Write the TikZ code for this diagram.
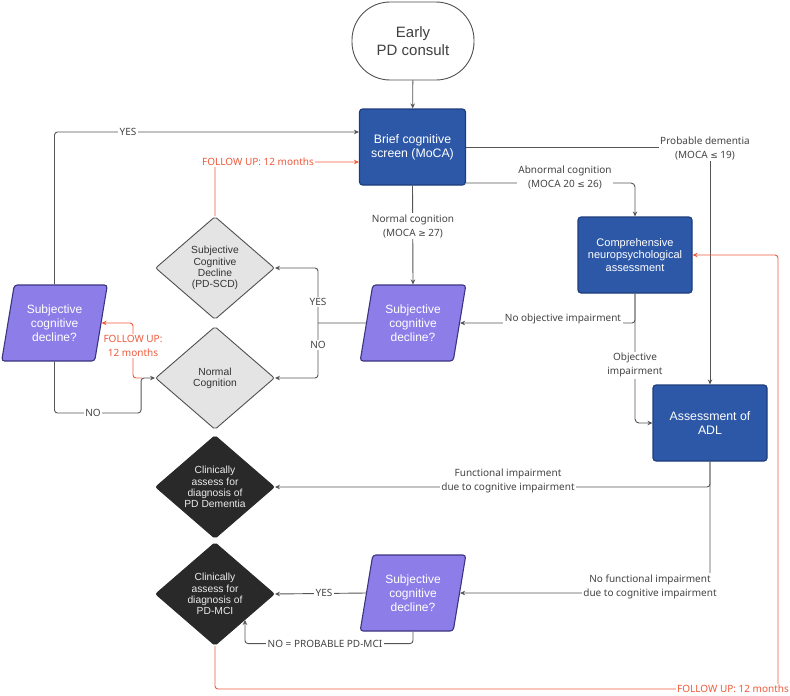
\documentclass[tikz,border=0pt]{standalone}
\usepackage{fontspec}
\setmainfont{Liberation Sans}
\newfontfamily\lblfont{Noto Sans}
\newfontfamily\symfont{DejaVu Sans}
\usetikzlibrary{shapes.geometric,arrows.meta}
\definecolor{boxblue}{HTML}{2D58A8}
\definecolor{boxblueb}{HTML}{1E3C7C}
\definecolor{parafill}{HTML}{8C7DE9}
\definecolor{parab}{HTML}{3B3480}
\definecolor{dgray}{HTML}{E4E4E4}
\definecolor{dgrayb}{HTML}{505050}
\definecolor{dblack}{HTML}{292929}
\definecolor{linegray}{HTML}{555555}
\definecolor{lbltext}{HTML}{444444}
\definecolor{fured}{HTML}{F05A3C}
\begin{document}
\begin{tikzpicture}[x=1pt,y=-1pt,
  startnode/.style={draw=dgrayb, fill=white, line width=0.9pt, rounded corners=38pt,
    minimum width=122pt, minimum height=78pt, inner sep=0pt, align=center,
    text=black!75, font=\fontsize{15}{18}\selectfont},
  bluebox/.style={draw=boxblueb, fill=boxblue, line width=1.1pt, rounded corners=3pt,
    minimum height=76pt, inner sep=0pt, align=center, text=white,
    font=\fontsize{12.3}{14}\selectfont},
  para/.style={trapezium, trapezium left angle=76.7, trapezium right angle=103.3,
    trapezium stretches=true, minimum width=106pt, minimum height=76pt, inner sep=0pt,
    fill=parafill, draw=parab, line width=1.1pt, rounded corners=3pt, text=white,
    align=center, font=\fontsize{12}{14}\selectfont},
  graydia/.style={diamond, fill=dgray, draw=dgrayb, line width=0.9pt, rounded corners=2pt,
    minimum width=119pt, minimum height=103pt, inner sep=0pt, align=center,
    text=black!80, font=\fontsize{10.3}{11.3}\selectfont},
  blackdia/.style={diamond, fill=dblack, draw=dblack, line width=0.9pt, rounded corners=2pt,
    minimum width=119pt, minimum height=103pt, inner sep=0pt, align=center,
    text=white!92!black, font=\fontsize{10.3}{11.3}\selectfont},
  arr/.style={draw=linegray, line width=0.9pt, -{Stealth[length=5pt,width=4.5pt]}},
  redarr/.style={draw=fured, line width=0.9pt, -{Stealth[length=5pt,width=4.5pt]}},
  lbl/.style={fill=white, inner sep=1.5pt, align=center, text=lbltext,
    font=\lblfont\fontsize{10}{14}\selectfont},
  redlbl/.style={lbl, text=fured}
]
\useasboundingbox (0,0) rectangle (790,696);

% nodes
\node[startnode] (early) at (413,41) {Early\\PD consult};
\node[bluebox, minimum width=106pt] (brief) at (412.5,147) {Brief cognitive\\screen (MoCA)};
\node[bluebox, minimum width=114pt, font=\fontsize{11}{12.6}\selectfont] (comp) at (635,255) {Comprehensive\\neuropsychological\\assessment};
\node[bluebox, minimum width=114pt] (adl) at (710,423) {Assessment of\\ADL};

\node[para] (sub1) at (413,323) {Subjective\\cognitive\\decline?};
\node[para] (sub0) at (54.5,323) {Subjective\\cognitive\\decline?};
\node[para] (sub2) at (413,593) {Subjective\\cognitive\\decline?};

\node[graydia] (scd) at (215,268) {Subjective\\Cognitive\\Decline\\(PD-SCD)};
\node[graydia] (normal) at (215,378) {Normal\\Cognition};
\node[blackdia] (dem) at (215,487) {Clinically\\assess for\\diagnosis of\\PD Dementia};
\node[blackdia] (mci) at (215,594) {Clinically\\assess for\\diagnosis of\\PD-MCI};

% connectors
\draw[arr] (early) -- (brief);

\draw[arr] (brief.east) -| (adl.north);
\node[lbl] (lprob) at (705,148) {Probable dementia\\(MOCA {\symfont\fontsize{9}{14}\selectfont ≤} 19)};

\draw[arr, rounded corners=4pt] ([yshift=-36pt]brief.east) -| (comp.north);
\node[lbl] (labn) at (565,177) {Abnormal cognition\\(MOCA 20 {\symfont\fontsize{9}{14}\selectfont ≤} 26)};

\draw[arr] (brief.south) -- (sub1.north);
\node[lbl] (lnorm) at (413,226) {Normal cognition\\(MOCA {\symfont\fontsize{9}{14}\selectfont ≥} 27)};

\draw[arr, rounded corners=3pt] (comp.south) |- (sub1.east);
\node[lbl] (lnoobj) at (563,319) {No objective impairment};

\draw[arr, rounded corners=4pt] (comp.south) |- (adl.west);
\node[lbl] (lobj) at (635,365) {Objective\\impairment};

\coordinate (j1) at (318,323);
\draw[draw=linegray, line width=0.9pt] (sub1.west) -- (j1);
\draw[arr, rounded corners=3pt] (j1) |- (scd.east);
\draw[arr, rounded corners=3pt] (j1) |- (normal.east);
\node[lbl] (lyes1) at (318,302) {YES};
\node[lbl] (lno1) at (318,345) {NO};

\draw[redarr, rounded corners=3pt] (scd.north) |- ([yshift=-15pt]brief.west);
\node[redlbl] (lfu1) at (258,162) {FOLLOW UP: 12 months};

\draw[arr, rounded corners=3pt] (sub0.north) |- ([yshift=15pt]brief.west);
\node[lbl] (lyes0) at (128,132) {YES};

\draw[arr, rounded corners=3pt] (sub0.south) |- ([xshift=-14pt,yshift=-35pt]normal.west) |- (normal.west);
\node[lbl] (lno0) at (93,413) {NO};

\draw[redarr, rounded corners=3pt] ([xshift=-13pt]normal.west) -| ([xshift=78.5pt]sub0.center) -- (sub0.east);
\node[redlbl] (lfu2) at (133,346) {FOLLOW UP:\\12 months};

\draw[arr, rounded corners=3pt] (adl.south) |- (dem.east);
\node[lbl] (lfunc) at (508,481) {Functional impairment\\due to cognitive impairment};

\draw[arr, rounded corners=3pt] (adl.south) |- (sub2.east);
\node[lbl] (lnofunc) at (650,587) {No functional impairment\\due to cognitive impairment};

\draw[arr] (sub2.west) -- (mci.east);
\node[lbl] (lyes2) at (324,593) {YES};

\draw[arr, rounded corners=3pt] (sub2.south) -- ++(0,12) -| (mci.south east);
\node[lbl] (lprob2) at (325,644) {NO = PROBABLE PD-MCI};

\draw[redarr, rounded corners=3pt] (mci.south) |- (778,689) |- (comp.east);
\node[redlbl] (lfu3) at (733,689) {FOLLOW UP: 12 months};
\end{tikzpicture}
\end{document}
